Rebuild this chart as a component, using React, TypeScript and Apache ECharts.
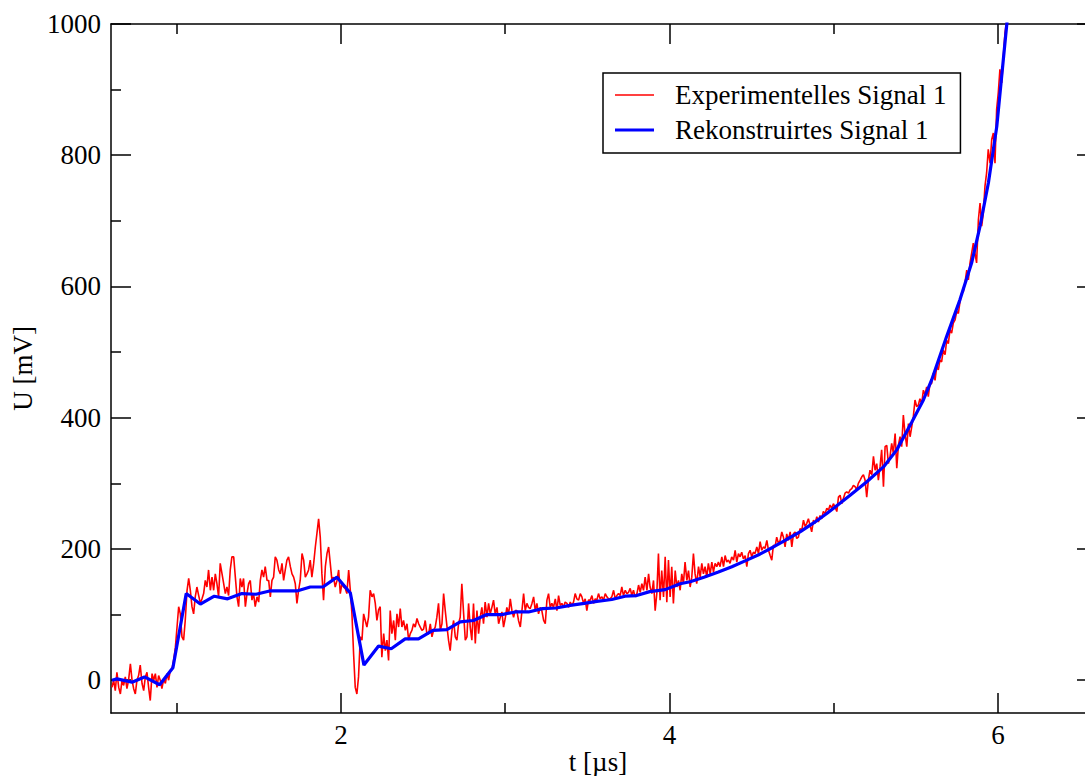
import React, { useEffect, useRef } from "react";
import * as echarts from "echarts";

const FONT = "'Liberation Serif', 'Times New Roman', serif";

const X_MIN = 0.6;
const X_MAX = 6.53;
const Y_MIN = -50;
const Y_MAX = 1000;

const xMajorTicks = [2, 4, 6];
const xMinorTicks = [1, 3, 5];
const yMajorTicks = [0, 200, 400, 600, 800, 1000];
const yMinorTicks = [100, 300, 500, 700, 900];

const seriesNames = ["Experimentelles Signal 1", "Rekonstruirtes Signal 1"];

const expPart1: [number, number][] = [
  [0.606,-11],[0.616,0],[0.626,-16],[0.636,12],[0.647,-11],[0.657,-21],[0.667,0],[0.677,-8],[0.687,5],[0.697,-13],
  [0.707,0],[0.718,25],[0.728,0],[0.738,-13],[0.748,-21],[0.758,0],[0.768,7],[0.778,23],[0.789,-5],[0.799,-16],
  [0.809,5],[0.819,12],[0.829,-11],[0.839,-31],[0.850,10],[0.860,0],[0.870,10],[0.880,-11],[0.890,7],[0.900,0],
  [0.910,-13],[0.921,2],[0.931,-5],[0.941,10],[0.951,0],[0.961,15],[0.971,17],[0.981,30],[0.992,50],[1.002,81],
  [1.012,112],[1.022,101],[1.032,66],[1.042,61],[1.052,91],[1.063,137],[1.073,155],[1.083,137],[1.093,112],[1.103,101],
  [1.113,127],[1.123,142],[1.134,129],[1.144,117],[1.154,124],[1.164,132],[1.174,152],[1.184,142],[1.194,168],[1.205,137],
  [1.215,157],[1.225,137],[1.235,162],[1.245,147],[1.255,127],[1.265,178],[1.276,162],[1.286,147],[1.296,132],[1.306,142],
  [1.316,129],[1.326,168],[1.336,188],[1.347,188],[1.357,157],[1.367,127],[1.377,112],[1.387,155],[1.397,142],[1.407,155],
  [1.418,112],[1.428,132],[1.438,147],[1.448,152],[1.458,122],[1.468,132],[1.478,112],[1.489,127],[1.499,119],[1.509,152],
  [1.519,168],[1.529,157],[1.539,173],[1.550,152],[1.560,152],[1.570,127],[1.580,152],[1.590,157],[1.600,188],[1.610,183],
  [1.621,168],[1.631,162],[1.641,178],[1.651,152],[1.661,168],[1.671,183],[1.681,188],[1.692,173],[1.702,162],[1.712,157],
  [1.722,147],[1.732,117],[1.742,137],[1.752,152],[1.763,193],[1.773,183],[1.783,157],[1.793,162],[1.803,168],[1.813,183],
  [1.823,157],[1.834,178],[1.844,203],[1.854,224],[1.864,246],[1.874,218],[1.884,162],[1.894,122],[1.905,173],[1.915,193],
  [1.925,203],[1.935,178],[1.945,152],[1.955,157],[1.965,142],[1.976,152],[1.986,168],[1.996,132],[2.006,147],[2.016,142],
  [2.026,140],[2.036,132],[2.047,168],[2.057,137],[2.067,101],[2.077,40],[2.087,-11],[2.097,-21],[2.107,5],[2.118,66],
  [2.128,61],[2.138,101],[2.148,91],[2.158,81],[2.168,96],[2.178,137],[2.189,127],[2.199,132],[2.209,117],[2.219,91],
  [2.229,107],[2.239,112],
];

const expPart2: [number, number][] = [
  [2.249,35],[2.260,71],[2.270,45],[2.280,61],[2.290,30],[2.300,106],[2.310,71],[2.321,91],[2.331,61],[2.341,101],
  [2.351,81],[2.361,109],[2.371,81],[2.381,91],[2.392,76],[2.402,86],[2.412,61],[2.422,71],[2.432,76],[2.442,86],
  [2.452,81],[2.463,94],[2.473,86],[2.483,81],[2.493,76],[2.503,78],[2.513,91],[2.523,71],[2.534,71],[2.544,86],
  [2.554,66],[2.564,76],[2.574,81],[2.584,96],[2.594,117],[2.605,76],[2.615,86],[2.625,132],[2.635,106],[2.645,83],
  [2.655,61],[2.665,45],[2.676,76],[2.686,91],[2.696,66],[2.706,61],[2.716,86],[2.726,96],[2.736,147],[2.747,101],
  [2.757,61],[2.767,66],[2.777,117],[2.787,81],[2.797,61],[2.807,117],[2.818,56],[2.828,106],[2.838,71],[2.848,96],
  [2.858,111],[2.868,86],[2.878,119],[2.889,96],[2.899,117],[2.909,101],[2.919,111],[2.929,122],[2.939,101],[2.950,111],
  [2.960,86],[2.970,96],[2.980,104],[2.990,81],[3.000,94],[3.010,111],[3.021,101],[3.031,124],[3.041,106],[3.051,96],
  [3.061,106],[3.071,106],[3.081,91],[3.092,81],[3.102,106],[3.112,132],[3.122,106],[3.132,117],[3.142,111],[3.152,109],
  [3.163,117],[3.173,127],[3.183,106],[3.193,117],[3.203,101],[3.213,111],[3.223,106],[3.234,91],[3.244,86],[3.254,122],
  [3.264,132],[3.274,111],[3.284,117],[3.294,111],[3.305,124],[3.315,106],[3.325,129],[3.335,114],[3.345,117],[3.355,111],
  [3.365,119],[3.376,117],[3.386,111],[3.396,119],[3.406,114],[3.416,119],[3.426,132],[3.436,124],[3.447,122],[3.457,132],
  [3.467,127],[3.477,117],[3.487,124],[3.497,106],[3.507,122],[3.518,122],[3.528,129],[3.538,117],[3.548,124],[3.558,122],
  [3.568,132],[3.578,124],[3.589,127],[3.599,122],[3.609,132],[3.619,127],[3.629,124],[3.639,124],[3.649,127],[3.660,137],
  [3.670,124],[3.680,129],[3.690,132],[3.700,129],[3.710,142],[3.720,129],[3.731,137],[3.741,132],[3.751,134],[3.761,140],
  [3.771,129],[3.781,137],[3.791,127],[3.802,132],[3.812,145],[3.822,134],[3.832,147],[3.842,137],[3.852,157],[3.863,137],
  [3.873,162],
];

const expPart3: [number, number][] = [
  [3.882,142],[3.893,132],[3.903,152],[3.913,106],[3.923,132],[3.933,193],[3.943,122],[3.953,167],[3.964,127],[3.974,188],
  [3.984,119],[3.994,183],[4.004,127],[4.014,173],[4.024,117],[4.035,167],[4.045,142],[4.055,152],[4.065,137],[4.075,162],
  [4.085,147],[4.095,180],[4.106,152],[4.116,167],[4.126,142],[4.136,157],[4.146,193],[4.156,162],[4.166,147],[4.177,173],
  [4.187,157],[4.197,178],[4.207,162],[4.217,173],[4.227,157],[4.237,178],[4.248,162],[4.258,180],[4.268,165],[4.278,178],
  [4.288,173],[4.298,180],[4.308,173],[4.319,188],[4.329,173],[4.339,190],[4.349,180],[4.359,183],[4.369,178],[4.379,188],
  [4.390,183],[4.400,198],[4.410,180],[4.420,193],[4.430,188],[4.440,195],[4.450,185],[4.461,190],[4.471,173],[4.481,193],
  [4.491,198],[4.501,188],[4.511,195],[4.521,193],[4.532,203],[4.542,193],[4.552,211],[4.562,198],[4.572,203],[4.582,201],
  [4.593,213],[4.603,198],[4.613,190],[4.623,183],[4.633,206],[4.643,203],[4.653,218],[4.664,208],[4.674,213],[4.684,226],
  [4.694,218],[4.704,203],[4.714,223],[4.724,213],[4.735,226],[4.745,203],[4.755,223],[4.765,226],[4.775,216],[4.785,218],
  [4.795,231],[4.806,229],[4.816,244],[4.826,234],[4.836,239],[4.846,246],[4.856,236],[4.866,226],[4.877,244],[4.887,239],
  [4.897,249],[4.907,241],[4.917,251],[4.927,246],[4.937,257],[4.948,254],[4.958,262],[4.968,259],[4.978,267],[4.988,262],
  [4.998,269],[5.008,264],[5.019,257],[5.029,279],[5.039,282],[5.049,269],[5.059,277],[5.069,285],[5.079,287],[5.090,285],
  [5.100,290],[5.110,292],[5.120,297],[5.130,295],[5.140,290],[5.150,300],[5.161,305],[5.171,310],[5.181,313],[5.191,305],
  [5.201,279],[5.211,305],[5.221,320],[5.232,313],[5.242,341],[5.252,320],[5.262,330],[5.272,305],[5.282,325],[5.292,351],
  [5.303,295],[5.313,356],[5.323,358],[5.333,330],[5.343,341],[5.353,361],[5.363,346],[5.374,376],[5.384,323],[5.394,358],
  [5.404,371],[5.414,356],[5.424,404],[5.434,376],[5.445,356],[5.455,391],[5.465,371],[5.475,386],[5.485,402],[5.495,427],
  [5.505,417],
];

const expPart4: [number, number][] = [
  [5.515,419],[5.525,429],[5.536,422],[5.546,442],[5.556,435],[5.566,447],[5.576,432],[5.586,452],[5.596,452],[5.607,468],
  [5.617,457],[5.627,478],[5.637,473],[5.647,488],[5.657,485],[5.667,503],[5.678,496],[5.688,518],[5.698,513],[5.708,534],
  [5.718,529],[5.728,544],[5.739,549],[5.749,562],[5.759,559],[5.769,577],[5.779,590],[5.789,592],[5.799,605],[5.810,625],
  [5.820,610],[5.830,636],[5.840,651],[5.850,666],[5.860,651],[5.870,636],[5.881,702],[5.891,727],[5.901,692],[5.911,712],
  [5.921,753],[5.931,773],[5.941,809],[5.952,788],[5.962,824],[5.972,834],[5.982,788],[5.992,870],[6.002,895],[6.012,931],
  [6.023,910],[6.033,951],[6.043,987],[6.053,1005],[6.063,1007],
];

// Reconstructed signal
const recSignal: [number, number][] = [
  [0.606,0],[0.636,2],[0.728,-3],[0.804,5],[0.896,-7],[0.977,19],[1.058,132],[1.144,116],[1.229,128],[1.31,124],
  [1.397,132],[1.483,131],[1.566,136],[1.651,136],[1.732,136],[1.813,142],[1.89,142],[1.976,157],[2.057,133],[2.14,23],
  [2.229,52],[2.306,48],[2.391,63],[2.472,63],[2.56,76],[2.645,77],[2.726,89],[2.807,91],[2.888,100],[2.98,100],
  [3.061,104],[3.142,104],[3.227,109],[3.31,110],[3.396,114],[3.481,117],[3.558,120],[3.649,123],[3.73,128],[3.8,129],
  [3.88,135],[3.974,138],[4.065,147],[4.126,150],[4.21,157],[4.298,165],[4.38,173],[4.471,183],[4.55,192],[4.633,203],
  [4.71,214],[4.795,226],[4.88,240],[4.958,254],[5.04,270],[5.1,282],[5.2,302],[5.303,325],[5.384,351],[5.475,393],
  [5.546,427],[5.597,458],[5.688,524],[5.769,580],[5.84,636],[5.891,692],[5.942,758],[5.993,844],[6.023,921],[6.054,1000],
  [6.07,1040],
];

const BLACK = "#000000";
const RED = "#ff0000";
const BLUE = "#0000ff";

function buildOption(): any {
  const labelStyle = { fontFamily: FONT, fontSize: 27, color: BLACK };
  const lineStyle = { color: BLACK, width: 1.5 };
  const xBase = { type: "value", min: X_MIN, max: X_MAX, gridIndex: 0, splitLine: { show: false } };
  const yBase = { type: "value", min: Y_MIN, max: Y_MAX, gridIndex: 0, splitLine: { show: false } };
  const expData = [...expPart1, ...expPart2, ...expPart3, ...expPart4];
  return {
    animation: false,
    backgroundColor: "#ffffff",
    grid: { left: 111, right: 0, top: 24, height: 689, containLabel: false, outerBoundsMode: "none" },
    legend: {
      orient: "vertical",
      left: 603,
      top: 73,
      backgroundColor: "#ffffff",
      borderColor: BLACK,
      borderWidth: 1.5,
      padding: [7, 14, 8, 12],
      itemWidth: 39,
      itemHeight: 14,
      itemGap: 5,
      symbolKeepAspect: true,
      itemStyle: { borderWidth: 0 },
      textStyle: { ...labelStyle, lineHeight: 30, padding: [0, 0, 0, 16] },
      data: [
        { name: seriesNames[0], icon: "path://M0,0H40V1.5H0Z", itemStyle: { color: RED, borderWidth: 0 } },
        { name: seriesNames[1], icon: "path://M0,0H40V3.2H0Z", itemStyle: { color: BLUE, borderWidth: 0 } },
      ],
    },
    xAxis: [
      {
        ...xBase,
        position: "bottom",
        axisLine: { show: true, onZero: false, lineStyle },
        axisTick: { show: true, inside: true, length: 20, customValues: xMajorTicks, lineStyle },
        axisLabel: { show: true, customValues: xMajorTicks, margin: 8, ...labelStyle },
        name: "t [µs]",
        nameLocation: "middle",
        nameGap: 35,
        nameMoveOverlap: false,
        nameTextStyle: { ...labelStyle, lineHeight: 27, verticalAlign: "top" },
      },
      {
        ...xBase,
        position: "bottom",
        axisLine: { show: false, onZero: false },
        axisTick: { show: true, inside: true, length: 10, customValues: xMinorTicks, lineStyle },
        axisLabel: { show: false },
      },
      {
        ...xBase,
        position: "top",
        axisLine: { show: true, onZero: false, lineStyle },
        axisTick: { show: true, inside: true, length: 20, customValues: xMajorTicks, lineStyle },
        axisLabel: { show: false },
      },
      {
        ...xBase,
        position: "top",
        axisLine: { show: false, onZero: false },
        axisTick: { show: true, inside: true, length: 10, customValues: xMinorTicks, lineStyle },
        axisLabel: { show: false },
      },
    ],
    yAxis: [
      {
        ...yBase,
        position: "left",
        axisLine: { show: true, onZero: false, lineStyle },
        axisTick: { show: true, inside: true, length: 20, customValues: yMajorTicks, lineStyle },
        axisLabel: {
          show: true,
          customValues: yMajorTicks,
          margin: 10,
          formatter: (v: number) => String(v),
          ...labelStyle,
        },
        name: "U [mV]",
        nameLocation: "middle",
        nameGap: 73,
        nameTextStyle: labelStyle,
      },
      {
        ...yBase,
        position: "left",
        axisLine: { show: false, onZero: false },
        axisTick: { show: true, inside: true, length: 10, customValues: yMinorTicks, lineStyle },
        axisLabel: { show: false },
      },
      {
        ...yBase,
        position: "right",
        axisLine: { show: false, onZero: false },
        axisTick: { show: true, inside: true, length: 8, customValues: yMajorTicks, lineStyle },
        axisLabel: { show: false },
      },
    ],
    series: [
      {
        name: seriesNames[0],
        type: "line",
        xAxisIndex: 0,
        yAxisIndex: 0,
        data: expData,
        showSymbol: false,
        symbol: "none",
        clip: true,
        lineStyle: { color: RED, width: 1.6 },
        itemStyle: { color: RED },
        z: 2,
      },
      {
        name: seriesNames[1],
        type: "line",
        xAxisIndex: 0,
        yAxisIndex: 0,
        data: recSignal,
        showSymbol: false,
        symbol: "none",
        clip: true,
        lineStyle: { color: BLUE, width: 3.2 },
        itemStyle: { color: BLUE },
        z: 3,
      },
    ],
  };
}

export default function App() {
  const ref = useRef<HTMLDivElement>(null);
  useEffect(() => {
    if (!ref.current) return;
    const chart = echarts.init(ref.current, undefined, { renderer: "svg" });
    chart.setOption(buildOption());
    return () => chart.dispose();
  }, []);
  return (
    <div
      ref={ref}
      style={{ position: "absolute", left: 0, top: 0, width: 1085, height: 776, background: "#ffffff" }}
    />
  );
}
